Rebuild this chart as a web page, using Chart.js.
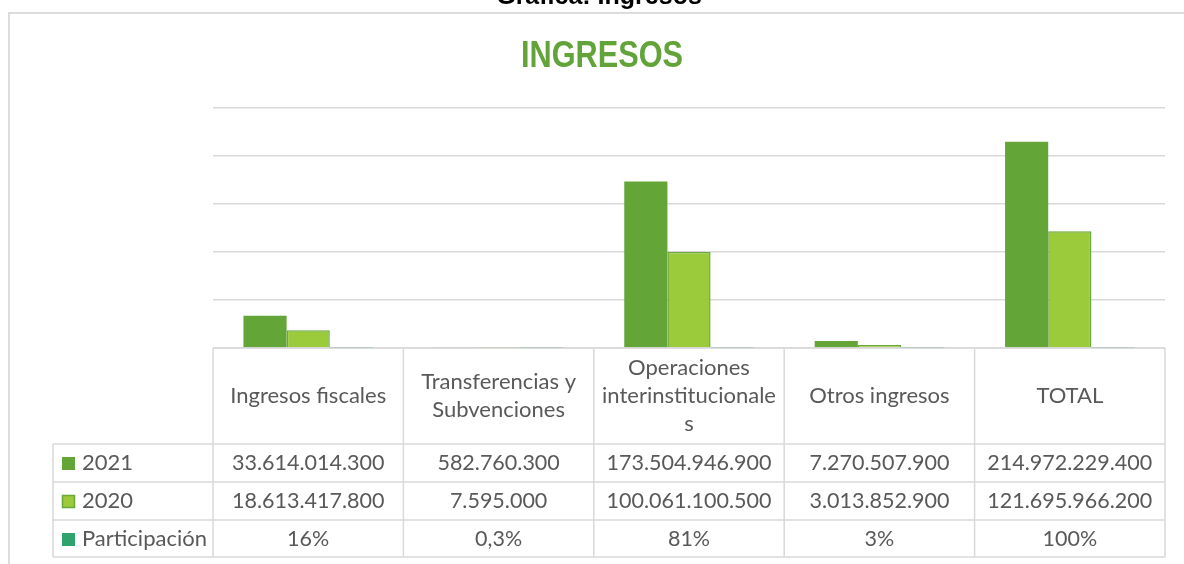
<!DOCTYPE html>
<html>
<head>
<meta charset="utf-8">
<script src="https://cdn.jsdelivr.net/npm/chart.js@4"></script>
<style>
  html, body { margin: 0; padding: 0; background: #fff; }
  #wrap { width: 1184px; height: 564px; position: relative; }
</style>
</head>
<body>
<div id="wrap"><canvas id="chart"></canvas></div>
<script>
// Chart data
const categories = [
  ['Ingresos fiscales'],
  ['Transferencias y', 'Subvenciones'],
  ['Operaciones', 'interinstitucionale', 's'],
  ['Otros ingresos'],
  ['TOTAL']
];
const seriesNames = ['2021', '2020', 'Participación'];
const values2021 = [33614014300, 582760300, 173504946900, 7270507900, 214972229400];
const values2020 = [18613417800, 7595000, 100061100500, 3013852900, 121695966200];
const participacion = [16, 0.3, 81, 3, 100]; // percent
const yMax = 250000000000;
const yStep = 50000000000;

const colors = ['#63a537', '#9bcb3b', '#2ea36e'];
const textColor = '#595959';
const lineColor = '#d9d9d9';

// 33614014300 -> "33.614.014.300"
function formatMoney(v) {
  return String(v).replace(/\B(?=(\d{3})+(?!\d))/g, '.');
}
function formatPct(v) {
  return String(v).replace('.', ',') + '%';
}

// draws title, outer border and the data table under the plot
const tablePlugin = {
  id: 'dataTable',
  afterDraw(chart) {
    const ctx = chart.ctx;
    const x = chart.scales.x;
    const area = chart.chartArea;
    const colW = (area.right - area.left) / categories.length;
    const headerBottom = area.bottom + 96;
    const rowH = 38;
    const tableBottom = headerBottom + rowH * 3 - 1;
    const legendLeft = 53;

    ctx.save();

    // caption cut off at the top of the picture
    ctx.fillStyle = '#000';
    ctx.font = 'bold 25px "Liberation Sans", Arial, sans-serif';
    ctx.textAlign = 'center';
    ctx.textBaseline = 'alphabetic';
    ctx.fillText('Gráfica: Ingresos', 599, 4);

    // chart border
    ctx.strokeStyle = '#dcdcdc';
    ctx.lineWidth = 2;
    ctx.beginPath();
    ctx.moveTo(9, 564);
    ctx.lineTo(9, 13);
    ctx.lineTo(1184, 13);
    ctx.stroke();

    // title (condensed look)
    ctx.save();
    ctx.fillStyle = '#62a33a';
    ctx.font = 'bold 37px "Liberation Sans", Arial, sans-serif';
    ctx.translate(602, 67);
    ctx.scale(0.83, 1);
    ctx.fillText('INGRESOS', 0, 0);
    ctx.restore();

    // table grid
    ctx.strokeStyle = lineColor;
    ctx.lineWidth = 1.5;
    ctx.beginPath();
    ctx.moveTo(area.left, area.bottom);
    ctx.lineTo(area.right, area.bottom);
    for (let r = 0; r <= 3; r++) {
      const yy = headerBottom + r * rowH - (r === 3 ? 1 : 0);
      ctx.moveTo(legendLeft, yy);
      ctx.lineTo(area.right, yy);
    }
    for (let i = 0; i <= categories.length; i++) {
      const xx = area.left + i * colW;
      ctx.moveTo(xx, area.bottom);
      ctx.lineTo(xx, tableBottom);
    }
    ctx.moveTo(legendLeft, headerBottom);
    ctx.lineTo(legendLeft, tableBottom);
    ctx.stroke();

    // header labels
    ctx.fillStyle = textColor;
    ctx.font = '22px Lato, "Open Sans", sans-serif';
    ctx.textAlign = 'center';
    ctx.textBaseline = 'middle';
    const lineH = 28;
    categories.forEach((lines, i) => {
      const cx = x.getPixelForValue(i);
      const cy = area.bottom + 48;
      lines.forEach((t, k) => {
        ctx.fillText(t, cx, cy + (k - (lines.length - 1) / 2) * lineH);
      });
    });

    // data rows
    const rows = [
      values2021.map(formatMoney),
      values2020.map(formatMoney),
      participacion.map(formatPct)
    ];
    rows.forEach((row, r) => {
      const cy = headerBottom + r * rowH + rowH / 2;
      ctx.font = '21.5px Lato, "Open Sans", sans-serif';
      row.forEach((t, i) => {
        ctx.fillText(t, x.getPixelForValue(i), cy);
      });
      // legend key
      ctx.fillStyle = colors[r];
      ctx.fillRect(62, cy - 6, 13, 13);
      if (r === 1) {
        ctx.strokeStyle = '#6aa83a';
        ctx.lineWidth = 1.5;
        ctx.strokeRect(62.5, cy - 5.5, 12, 12);
      }
      ctx.fillStyle = textColor;
      ctx.textAlign = 'left';
      ctx.font = '22px Lato, "Open Sans", sans-serif';
      ctx.fillText(seriesNames[r], 82, cy);
      ctx.textAlign = 'center';
    });

    ctx.restore();
  }
};

const ctx = document.getElementById('chart').getContext('2d');
new Chart(ctx, {
  type: 'bar',
  data: {
    labels: categories,
    datasets: [
      {
        label: seriesNames[0],
        data: values2021,
        backgroundColor: colors[0],
        borderWidth: 0
      },
      {
        label: seriesNames[1],
        data: values2020,
        backgroundColor: colors[1],
        borderColor: '#6aa83a',
        borderWidth: 1.5
      },
      {
        label: seriesNames[2],
        data: participacion,
        backgroundColor: colors[2],
        borderWidth: 0
      }
    ]
  },
  options: {
    responsive: true,
    maintainAspectRatio: false,
    animation: false,
    events: [],
    layout: {
      padding: { left: 213, right: 19, top: 108, bottom: 216 }
    },
    datasets: {
      bar: { categoryPercentage: 0.68, barPercentage: 1 }
    },
    plugins: {
      legend: { display: false },
      title: { display: false },
      tooltip: { enabled: false }
    },
    scales: {
      x: {
        ticks: { display: false },
        grid: { display: false },
        border: { display: false },
        afterFit(scale) { scale.height = 0; }
      },
      y: {
        min: 0,
        max: yMax,
        ticks: { display: false, stepSize: yStep },
        grid: { color: lineColor, lineWidth: 1.5, drawTicks: false },
        border: { display: false },
        afterFit(scale) { scale.width = 0; }
      }
    }
  },
  plugins: [tablePlugin]
});
</script>
</body>
</html>
